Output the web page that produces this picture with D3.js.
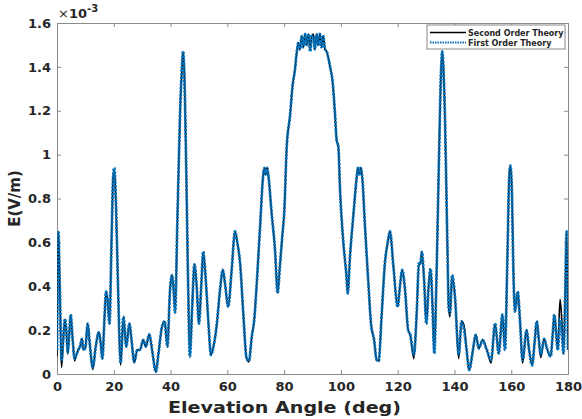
<!DOCTYPE html>
<html>
<head>
<meta charset="utf-8">
<script src="https://cdn.jsdelivr.net/npm/d3@7"></script>
<style>
  body { margin: 0; background: #fff; }
  text { font-family: "DejaVu Sans", sans-serif; font-weight: bold; fill: #262626; }
</style>
</head>
<body>
<div id="chart"></div>
<script>
// elevation angles (deg) where the curves were read
var angles = [0, 0.3, 0.5, 0.9, 1.3, 1.6, 2.2, 2.8, 3.3, 3.8, 4.3, 4.8, 5.5, 6.2, 6.9, 7.5, 8.1, 8.8, 9.3, 10.0,
  10.8, 11.6, 12.6, 13.6, 14.7, 15.3, 16.0, 16.7, 17.3, 17.8, 18.5, 19.2, 19.8, 20.2, 20.7, 21.5, 22.4, 23.4, 24.4, 25.5,
  26.3, 27.2, 28.3, 29.2, 30.4, 31.3, 32.5, 33.6, 34.8, 35.8, 36.9, 37.9, 38.9, 39.8, 40.5, 41.0, 41.6, 42.4, 43.5, 44.0,
  44.4, 44.9, 45.5, 46.2, 46.8, 47.6, 48.4, 49.2, 50.0, 50.8, 51.5, 52.0, 52.7, 53.5, 54.2, 55.2, 56.2, 57.4, 58.4, 59.2,
  60.3, 61.5, 62.7, 63.5, 64.5, 65.6, 66.8, 67.6, 68.6, 69.5, 70.3, 71.5, 72.7, 73.1, 73.5, 74.0, 74.5, 75.6, 76.8, 77.7,
  78.5, 79.3, 80.1, 80.9, 82.1, 83.0, 83.8, 84.4, 85.0, 85.6, 86.2, 86.8, 87.4, 88.0, 88.6, 89.2, 89.7, 90.3, 90.8, 91.4,
  92.0, 92.6, 93.2, 93.8, 94.4, 95.0, 95.6, 96.2, 97.1, 97.9, 98.5, 99.1, 99.7, 100.8, 102.0, 102.4, 103.2, 104.4, 105.6, 106.0,
  106.5, 107.0, 107.5, 108.5, 109.7, 110.6, 111.7, 112.6, 113.3, 114.4, 115.5, 116.5, 117.3, 118.5, 120.0, 120.8, 121.6, 122.6, 123.7, 124.4,
  125.7, 126.7, 127.5, 128.0, 128.5, 129.3, 130.1, 130.9, 131.6, 132.3, 132.9, 133.6, 134.5, 135.2, 135.7, 136.1, 136.6, 137.5, 138.0, 138.4,
  139.2, 140.2, 141.5, 142.5, 143.4, 144.2, 145.2, 146.4, 147.5, 148.6, 149.9, 151.4, 152.9, 154.3, 155.6, 156.9, 157.8, 158.6, 159.3, 159.7,
  160.2, 160.8, 161.3, 162.3, 163.1, 164.0, 165.4, 166.3, 167.4, 168.2, 169.0, 169.7, 170.4, 171.6, 172.5, 173.9, 174.6, 175.2, 175.8, 176.4,
  177.2, 177.8, 178.4, 179.0, 179.5, 179.8, 180.0];

// E field, first order theory (x 10^-3 V/m)
var firstOrder = [0.11, 0.55, 0.65, 0.45, 0.20, 0.06, 0.16, 0.25, 0.20, 0.10, 0.18, 0.27, 0.16, 0.07, 0.09, 0.11, 0.125, 0.16, 0.11, 0.12,
  0.23, 0.13, 0.03, 0.12, 0.19, 0.15, 0.07, 0.25, 0.375, 0.34, 0.23, 0.60, 0.90, 0.94, 0.80, 0.40, 0.05, 0.26, 0.125, 0.23,
  0.15, 0.056, 0.11, 0.11, 0.155, 0.125, 0.18, 0.10, 0.01, 0.10, 0.21, 0.24, 0.125, 0.38, 0.45, 0.40, 0.28, 0.70, 1.25, 1.40,
  1.47, 1.35, 0.95, 0.40, 0.08, 0.30, 0.50, 0.40, 0.23, 0.40, 0.557, 0.50, 0.37, 0.20, 0.087, 0.13, 0.216, 0.38, 0.474, 0.41,
  0.307, 0.47, 0.65, 0.60, 0.505, 0.28, 0.07, 0.06, 0.17, 0.25, 0.40, 0.665, 0.915, 0.94, 0.91, 0.94, 0.90, 0.733, 0.565, 0.37,
  0.49, 0.62, 0.75, 1.03, 1.18, 1.317, 1.385, 1.46, 1.51, 1.48, 1.54, 1.49, 1.55, 1.50, 1.55, 1.47, 1.54, 1.54, 1.48, 1.55,
  1.50, 1.55, 1.49, 1.54, 1.48, 1.47, 1.44, 1.40, 1.33, 1.19, 1.067, 1.036, 0.84, 0.61, 0.44, 0.368, 0.535, 0.725, 0.90, 0.94,
  0.91, 0.94, 0.90, 0.67, 0.41, 0.23, 0.155, 0.064, 0.06, 0.277, 0.505, 0.60, 0.65, 0.49, 0.307, 0.40, 0.474, 0.383, 0.20, 0.18,
  0.087, 0.277, 0.505, 0.50, 0.557, 0.43, 0.23, 0.40, 0.48, 0.30, 0.094, 0.40, 0.95, 1.35, 1.47, 1.40, 1.20, 0.60, 0.30, 0.277,
  0.45, 0.35, 0.09, 0.24, 0.20, 0.12, 0.018, 0.10, 0.178, 0.117, 0.155, 0.11, 0.064, 0.23, 0.094, 0.27, 0.11, 0.50, 0.90, 0.95,
  0.85, 0.45, 0.284, 0.375, 0.24, 0.064, 0.20, 0.11, 0.04, 0.14, 0.24, 0.16, 0.087, 0.16, 0.12, 0.08, 0.18, 0.27, 0.19, 0.11,
  0.25, 0.19, 0.094, 0.35, 0.65, 0.40, 0.11];

// E field, second order theory (x 10^-3 V/m)
var secondOrder = [0.08, 0.55, 0.65, 0.45, 0.18, 0.03, 0.15, 0.25, 0.19, 0.09, 0.18, 0.27, 0.16, 0.06, 0.09, 0.11, 0.125, 0.16, 0.11, 0.12,
  0.23, 0.13, 0.02, 0.12, 0.19, 0.15, 0.07, 0.25, 0.375, 0.34, 0.23, 0.60, 0.90, 0.93, 0.80, 0.40, 0.04, 0.26, 0.125, 0.23,
  0.15, 0.05, 0.11, 0.11, 0.155, 0.125, 0.18, 0.10, 0.01, 0.10, 0.21, 0.24, 0.125, 0.38, 0.45, 0.40, 0.28, 0.70, 1.25, 1.38,
  1.47, 1.35, 0.95, 0.40, 0.08, 0.30, 0.50, 0.40, 0.23, 0.40, 0.557, 0.50, 0.37, 0.20, 0.087, 0.13, 0.216, 0.38, 0.474, 0.41,
  0.307, 0.47, 0.65, 0.60, 0.505, 0.28, 0.07, 0.055, 0.17, 0.25, 0.40, 0.665, 0.915, 0.94, 0.91, 0.94, 0.90, 0.733, 0.565, 0.37,
  0.49, 0.62, 0.75, 1.03, 1.18, 1.317, 1.385, 1.46, 1.51, 1.48, 1.54, 1.49, 1.55, 1.50, 1.55, 1.48, 1.54, 1.55, 1.48, 1.55,
  1.50, 1.55, 1.49, 1.54, 1.48, 1.47, 1.44, 1.40, 1.33, 1.19, 1.067, 1.036, 0.84, 0.61, 0.44, 0.368, 0.535, 0.725, 0.90, 0.94,
  0.91, 0.94, 0.90, 0.67, 0.41, 0.23, 0.155, 0.064, 0.06, 0.277, 0.505, 0.60, 0.65, 0.49, 0.307, 0.40, 0.474, 0.383, 0.20, 0.18,
  0.07, 0.277, 0.505, 0.50, 0.557, 0.43, 0.23, 0.40, 0.48, 0.30, 0.094, 0.40, 0.95, 1.35, 1.47, 1.40, 1.20, 0.60, 0.30, 0.26,
  0.45, 0.35, 0.07, 0.24, 0.22, 0.12, 0.018, 0.10, 0.178, 0.117, 0.155, 0.11, 0.05, 0.23, 0.094, 0.27, 0.11, 0.50, 0.90, 0.95,
  0.85, 0.45, 0.284, 0.375, 0.24, 0.05, 0.20, 0.11, 0.04, 0.14, 0.24, 0.16, 0.075, 0.16, 0.12, 0.08, 0.18, 0.27, 0.19, 0.11,
  0.34, 0.25, 0.094, 0.35, 0.65, 0.40, 0.11];

var xTicks = [0, 20, 40, 60, 80, 100, 120, 140, 160, 180];
var yTicks = [0, 0.2, 0.4, 0.6, 0.8, 1, 1.2, 1.4, 1.6];
var seriesNames = ["Second Order Theory", "First Order Theory"];

// set the dimensions and margins of the graph
var margin = {top: 23, right: 14, bottom: 45, left: 57},
    width = 582 - margin.left - margin.right,
    height = 419 - margin.top - margin.bottom;

var svg = d3.select("#chart")
  .append("svg")
    .attr("width", 582)
    .attr("height", 419);

var g = svg.append("g")
    .attr("transform", "translate(" + margin.left + "," + margin.top + ")");

var x = d3.scaleLinear().domain([0, 180]).range([0, width]);
var y = d3.scaleLinear().domain([0, 1.6]).range([height, 0]);

var axisColor = "#8a8a8a";

// axes with inward ticks
var xAxis = g.append("g")
    .attr("transform", "translate(0," + height + ")")
    .call(d3.axisBottom(x).tickValues(xTicks).tickSize(-4).tickPadding(8).tickFormat(d3.format("d")));
var xTop = g.append("g")
    .call(d3.axisTop(x).tickValues(xTicks).tickSize(-4).tickFormat(""));
var yAxis = g.append("g")
    .call(d3.axisLeft(y).tickValues(yTicks).tickSize(-4).tickPadding(6).tickFormat(d3.format("~g")));
var yRight = g.append("g")
    .attr("transform", "translate(" + width + ",0)")
    .call(d3.axisRight(y).tickValues(yTicks).tickSize(-4).tickFormat(""));

[xAxis, xTop, yAxis, yRight].forEach(function(a) {
  a.selectAll("path, line").attr("stroke", axisColor);
  a.selectAll("text")
    .style("font-size", "13px")
    .style("font-family", "DejaVu Sans, sans-serif")
    .style("font-weight", "bold")
    .attr("fill", "#262626");
});

// clip path for the curves
g.append("defs").append("clipPath")
    .attr("id", "clip")
  .append("rect")
    .attr("width", width)
    .attr("height", height);

var pts1 = angles.map(function(a, i) { return [a, firstOrder[i]]; });
var pts2 = angles.map(function(a, i) { return [a, secondOrder[i]]; });

var line = d3.line()
    .x(function(d) { return x(d[0]); })
    .y(function(d) { return y(d[1]); })
    .curve(d3.curveMonotoneX);

var curves = g.append("g").attr("clip-path", "url(#clip)");

curves.append("path")
    .datum(pts2)
    .attr("d", line)
    .attr("fill", "none")
    .attr("stroke", "#000")
    .attr("stroke-width", 1.6);

curves.append("path")
    .datum(pts1)
    .attr("d", line)
    .attr("fill", "none")
    .attr("stroke", "#0072BD")
    .attr("stroke-width", 2.8)
    .attr("stroke-dasharray", "2.5,1");

// x-axis label
svg.append("text")
    .attr("x", 168)
    .attr("y", 413)
    .attr("textLength", 233)
    .attr("lengthAdjust", "spacingAndGlyphs")
    .style("font-size", "16px")
    .text("Elevation Angle (deg)");

// y-axis label
svg.append("text")
    .attr("transform", "translate(20," + (margin.top + height / 2) + ") rotate(-90)")
    .style("text-anchor", "middle")
    .style("font-size", "15px")
    .text("E(V/m)");

// exponent
var expo = svg.append("text")
    .attr("x", margin.left + 1)
    .attr("y", 18)
    .style("font-size", "13px");
expo.append("tspan").style("font-weight", "normal").text("\u00d7");
expo.append("tspan").text("10");
expo.append("tspan").attr("dy", -6).style("font-size", "10px").text("-3");

// legend
var legend = svg.append("g").attr("transform", "translate(427,25)");
legend.append("rect")
    .attr("width", 138)
    .attr("height", 24)
    .attr("fill", "#fff")
    .attr("stroke", axisColor);

var legendStyles = [
  {stroke: "#000", width: 1.4, dash: null},
  {stroke: "#0072BD", width: 2, dash: "1.5,1"}
];

seriesNames.forEach(function(name, i) {
  var yy = 7.5 + i * 10;
  legend.append("line")
      .attr("x1", 3).attr("x2", 39)
      .attr("y1", yy).attr("y2", yy)
      .attr("stroke", legendStyles[i].stroke)
      .attr("stroke-width", legendStyles[i].width)
      .attr("stroke-dasharray", legendStyles[i].dash);
  legend.append("text")
      .attr("x", 41)
      .attr("y", yy + 3)
      .style("font-size", "8px")
      .text(name);
});
</script>
</body>
</html>
